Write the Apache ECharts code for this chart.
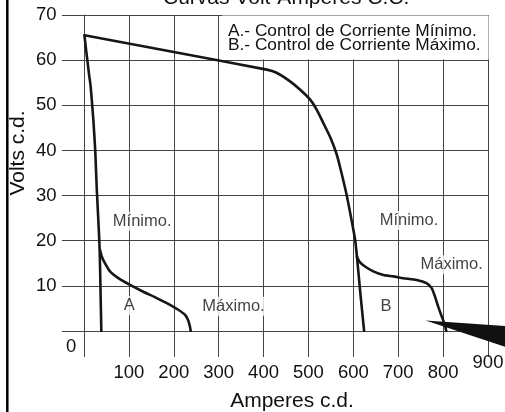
<!DOCTYPE html>
<html><head><meta charset="utf-8">
<script src="https://cdn.jsdelivr.net/npm/echarts@6/dist/echarts.min.js"></script>
<style>html,body{margin:0;padding:0;background:#fff}#c{width:505px;height:412px}</style>
</head><body><div id="c"></div>
<script>
const FONT = '"Liberation Sans", Arial, Helvetica, sans-serif';
const titleText = 'Curvas Volt-Amperes C.C.';
const legendLines = ['A.- Control de Corriente Mínimo.', 'B.- Control de Corriente Máximo.'];
const xName = 'Amperes c.d.';
const yName = 'Volts c.d.';

// Curve A (control de corriente mínimo)
const curveAMin = [[1,65.5],[4,62.8],[7.5,60],[11,57],[14.8,54.2],[20.8,46.8],[25.3,39.4],[28.2,32],[31.9,24.6],[34.9,18],[36.8,9],[38.6,0]];
const curveAMax = [[35.6,18],[40,16.4],[46.8,15],[57.9,13.2],[76.5,11.7],[102.5,10.2],[132,8.7],[162,7.3],[191.6,5.8],[210,4.7],[225,3.6],[232,2.4],[236,1],[237.7,0]];
// Curve B (control de corriente máximo)
const curveBMin = [[1,65.5],[200,61.8],[407,57.9],[429,57.2],[459,55.3],[481,53.5],[503.5,51.3],[518,49.1],[533,46.1],[550,42.6],[563,39.1],[570,36.5],[585,30.2],[596,24.6],[604,20.2],[608,16.5],[616,8],[624,0]];
const curveBMax = [[608,16.5],[614,15.3],[626,14.3],[644.5,13.2],[667,12.4],[689,12.1],[711,11.7],[741,11.3],[763,10.6],[774.5,9.5],[782,7.6],[789,5.4],[797,3.2],[804,1.3],[807,0]];

// pointer wedge
const arrowX = [761, 1016, 1016];
const arrowY = [2.3, 0.58, -6.04];

// annotations
const noteNames = ['Mínimo.', 'A', 'Máximo.', 'Mínimo.', 'Máximo.', 'B'];
const noteX = [129.6, 101, 333, 724, 819, 673];
const noteY = [24.3, 5.6, 5.5, 24.5, 14.7, 5.4];

const GRID = '#444';
const INK = '#111';
const CURVE = '#161616';

const chart = echarts.init(document.getElementById('c'), null, {renderer: 'canvas'});

function curve(data) {
  return {type: 'line', data: data, symbol: 'none', smooth: 0.2, silent: true,
    lineStyle: {color: CURVE, width: 2.6, join: 'round', cap: 'round'}, z: 3};
}

const option = {
  animation: false,
  backgroundColor: '#fff',
  title: [
    {text: titleText, left: 163, top: -12, padding: 0,
     textStyle: {fontFamily: FONT, fontSize: 21, fontWeight: 'normal', color: INK}},
    {text: legendLines.join('\n'), left: 222, top: 17, padding: [7, 8, 6, 6], backgroundColor: '#fff',
     textStyle: {fontFamily: FONT, fontSize: 17.3, lineHeight: 14, fontWeight: 'normal', color: INK}}
  ],
  graphic: [
    {type: 'line', shape: {x1: 7.3, y1: 0, x2: 7.3, y2: 412}, style: {stroke: '#000', lineWidth: 2.5}, silent: true}
  ],
  grid: {left: 84, right: 17, top: 15, bottom: 81, containLabel: false, outerBoundsMode: 'none'},
  xAxis: {
    type: 'value', min: 0, max: 900, interval: 100,
    name: xName, nameLocation: 'middle', nameGap: 60, nameMoveOverlap: false,
    nameTextStyle: {fontFamily: FONT, fontSize: 21, color: INK, padding: [0, 0, 0, 12]},
    axisLine: {show: true, lineStyle: {color: GRID, width: 1}},
    axisTick: {show: true, length: 26, lineStyle: {color: GRID, width: 1}},
    splitLine: {show: true, lineStyle: {color: GRID, width: 1}},
    axisLabel: {
      margin: 22.5, showMinLabel: true, showMaxLabel: true, color: INK, fontFamily: FONT, fontSize: 18.5,
      formatter: v => v === 0 ? '' : (v === 900 ? '{h|900}' : '{n|' + v + '}'),
      rich: {
        h: {fontFamily: FONT, fontSize: 18.5, color: INK, lineHeight: 18},
        n: {fontFamily: FONT, fontSize: 18.5, color: INK, lineHeight: 38}
      }
    }
  },
  yAxis: {
    type: 'value', min: 0, max: 70, interval: 10,
    name: yName, nameLocation: 'middle', nameRotate: 90, nameGap: 55, nameMoveOverlap: false,
    nameTextStyle: {fontFamily: FONT, fontSize: 21, color: INK, padding: [0, 0, 0, 40]},
    axisLine: {show: true, lineStyle: {color: GRID, width: 1}},
    axisTick: {show: true, length: 22, lineStyle: {color: GRID, width: 1}},
    splitLine: {show: true, lineStyle: {color: GRID, width: 1}},
    axisLabel: {
      align: 'left', margin: 48, color: INK, fontFamily: FONT, fontSize: 18.5, showMinLabel: true,
      formatter: v => v === 0 ? '{z|0}' : String(v),
      rich: {z: {fontFamily: FONT, fontSize: 18.5, color: INK, padding: [32, 0, 0, 30]}}
    }
  },
  series: [
    curve(curveAMin), curve(curveAMax), curve(curveBMin), curve(curveBMax),
    {
      type: 'custom', clip: false, silent: true, z: 5,
      data: [[arrowX[0], arrowY[0]]],
      renderItem: (params, api) => {
        const pts = arrowX.map((x, i) => api.coord([x, arrowY[i]]));
        return {type: 'polygon', shape: {points: pts}, style: {fill: '#111'}};
      }
    },
    {
      type: 'scatter', silent: true, z: 10, symbolSize: 1,
      itemStyle: {color: 'rgba(0,0,0,0)'},
      data: noteNames.map((n, i) => ({name: n, value: [noteX[i], noteY[i]]})),
      label: {show: true, position: 'inside', formatter: p => p.name,
        fontFamily: FONT, fontSize: 16.5, color: INK, backgroundColor: '#fff', padding: [1, 1]}
    }
  ]
};
chart.setOption(option);
</script></body></html>
